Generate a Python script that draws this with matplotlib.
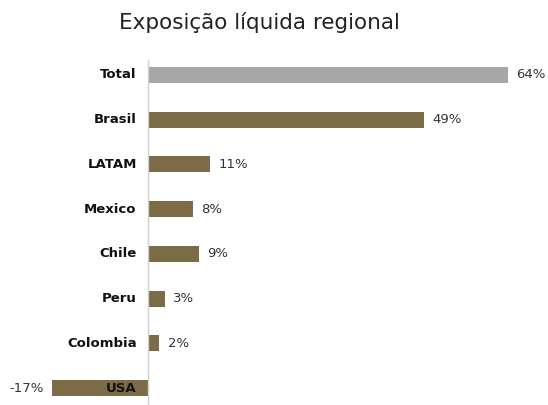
import numpy as np
from matplotlib import pyplot as plt

categories = ['Total', 'Brasil', 'LATAM', 'Mexico', 'Chile', 'Peru', 'Colombia', 'USA']
values = [64, 49, 11, 8, 9, 3, 2, -17]
labels = ['64%', '49%', '11%', '8%', '9%', '3%', '2%', '-17%']

gray = '#a7a6a8'
brown = '#7b6b47'
colors = [gray] + [brown] * (len(values) - 1)

fig = plt.figure(figsize=(5.48, 4.05), dpi=100)
ax = fig.add_axes([0, 0, 1, 0.852])

y = np.arange(len(categories))
ax.barh(y, values, height=0.36, color=colors)

ax.set_xlim(-26.31, 71.11)
ax.set_ylim(7.38, -0.336)
ax.axvline(0, color='#d0d0d0', lw=1)
ax.axis('off')

for i, (c, v, lab) in enumerate(zip(categories, values, labels)):
    ax.text(-2.0, i, c, ha='right', va='center', fontsize=9.5, fontweight='bold',
            color='#111111', family='DejaVu Sans')
    if v >= 0:
        ax.text(v + 1.5, i, lab, ha='left', va='center', fontsize=9.5, color='#333333', family='DejaVu Sans')
    else:
        ax.text(v - 1.5, i, lab, ha='right', va='center', fontsize=9.5, color='#333333', family='DejaVu Sans')

fig.text(0.474, 0.945, 'Exposição líquida regional', ha='center', va='center',
         fontsize=15.5, color='#222222', family='DejaVu Sans')

fig.savefig('out.png', dpi=100)
